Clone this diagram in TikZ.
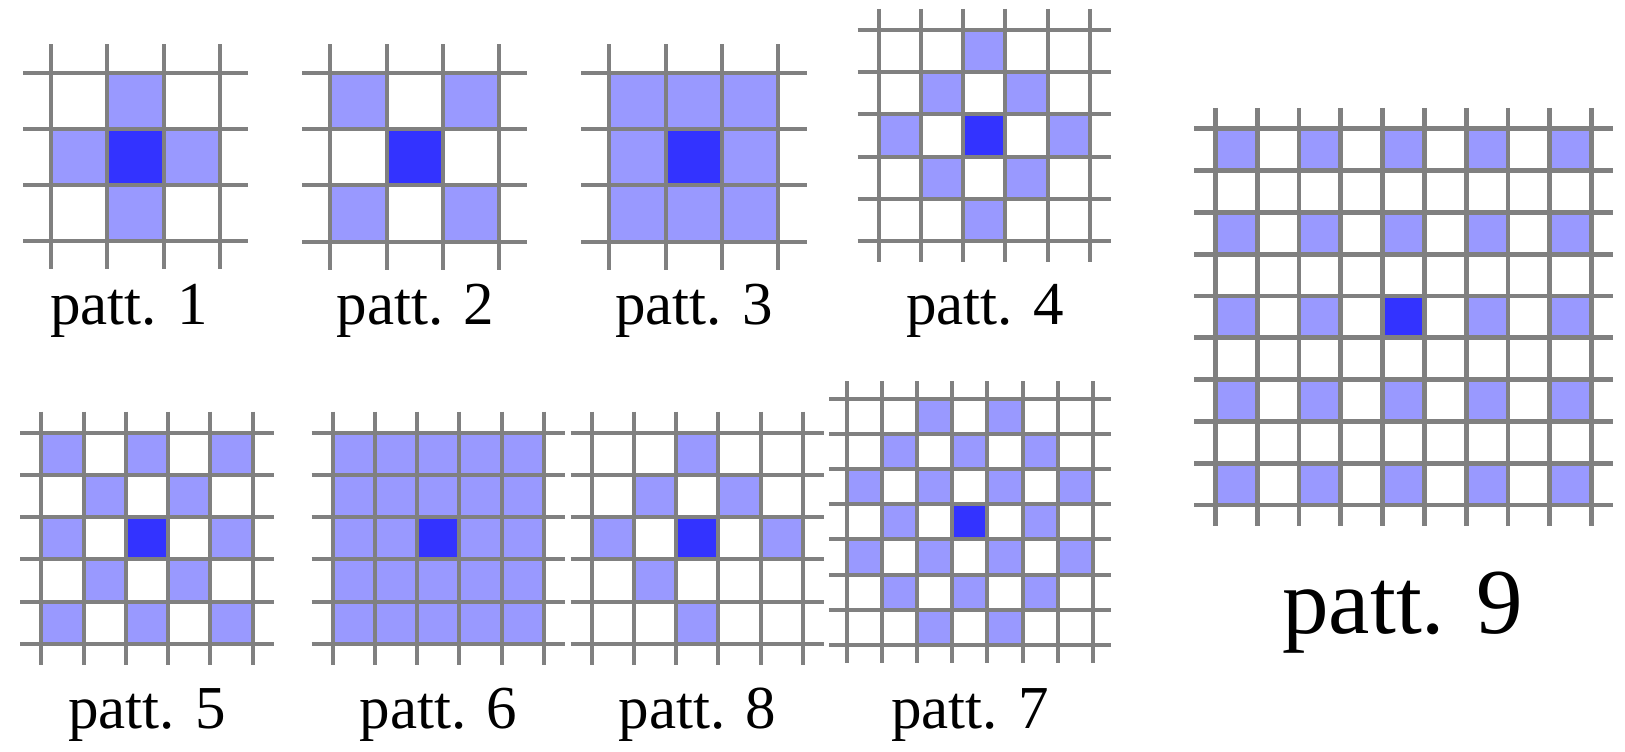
\documentclass[tikz,border=0pt]{standalone}
\usepackage{fontspec}
\setmainfont{Liberation Serif}
\definecolor{lightcell}{HTML}{9999FF}
\definecolor{darkcell}{HTML}{3333FF}
\definecolor{gridgray}{HTML}{808080}
\tikzset{
  gridline/.style={draw=gridgray, line width=4pt},
  lightfill/.style={fill=lightcell},
  darkfill/.style={fill=darkcell},
  lbl/.style={font=\fontsize{61}{72}\selectfont, anchor=base, inner sep=0pt},
  biglbl/.style={font=\fontsize{93}{110}\selectfont, anchor=base, inner sep=0pt},
}
% [#1 line width] #2 x0, #3 y0, #4 cell, #5 n, #6 light cells, #7 dark cell
\newcommand\drawpatt[7][4pt]{%
  \begin{scope}[shift={(#2,#3)}]
    \foreach \i/\j in {#6} {\fill[lightfill] (\i*#4,\j*#4) rectangle ++(#4,#4);}
    \foreach \i/\j in {#7} {\fill[darkfill] (\i*#4,\j*#4) rectangle ++(#4,#4);}
    \foreach \k in {0,...,#5} {
      \draw[gridline, line width=#1] (\k*#4,-0.5*#4) -- (\k*#4,#5*#4+0.5*#4);
      \draw[gridline, line width=#1] (-0.5*#4,\k*#4) -- (#5*#4+0.5*#4,\k*#4);
    }
  \end{scope}%
}
\begin{document}
\begin{tikzpicture}[x=1pt,y=-1pt]
\useasboundingbox (0,0) rectangle (1625,752);
% patt. 1
\drawpatt{51.2}{72.6}{56.2}{3}{1/0,0/1,2/1,1/2}{1/1}
\node[lbl] (l1) at (129,324.5) {patt. 1};
% patt. 2
\drawpatt{330.2}{72.6}{56.3}{3}{0/0,2/0,0/2,2/2}{1/1}
\node[lbl] (l2) at (415.3,324.5) {patt. 2};
% patt. 3
\drawpatt{609.2}{72.6}{56.4}{3}{0/0,1/0,2/0,0/1,2/1,0/2,1/2,2/2}{1/1}
\node[lbl] (l3) at (694,324.5) {patt. 3};
% patt. 4
\drawpatt{878.8}{30}{42.2}{5}{2/0,1/1,3/1,0/2,4/2,1/3,3/3,2/4}{2/2}
\node[lbl] (l4) at (985,324.5) {patt. 4};
% patt. 5
\drawpatt{41.3}{432.7}{42.25}{5}{0/0,2/0,4/0,1/1,3/1,0/2,4/2,1/3,3/3,0/4,2/4,4/4}{2/2}
\node[lbl] (l5) at (147,728) {patt. 5};
% patt. 6
\drawpatt{332.7}{432.7}{42.25}{5}{0/0,1/0,2/0,3/0,4/0,0/1,1/1,2/1,3/1,4/1,0/2,1/2,3/2,4/2,0/3,1/3,2/3,3/3,4/3,0/4,1/4,2/4,3/4,4/4}{2/2}
\node[lbl] (l6) at (438.5,728) {patt. 6};
% patt. 8
\drawpatt{591.7}{432.7}{42.2}{5}{2/0,1/1,3/1,0/2,4/2,1/3,2/4}{2/2}
\node[lbl] (l8) at (697.5,728) {patt. 8};
% patt. 7
\drawpatt{846.6}{398.6}{35.2}{7}{2/0,4/0,1/1,3/1,5/1,0/2,2/2,4/2,6/2,1/3,5/3,0/4,2/4,4/4,6/4,1/5,3/5,5/5,2/6,4/6}{3/3}
\node[lbl] (l7) at (969.8,728) {patt. 7};
% patt. 9
\drawpatt[4.8pt]{1215.3}{128.7}{41.82}{9}{0/0,2/0,4/0,6/0,8/0,0/2,2/2,4/2,6/2,8/2,0/4,2/4,6/4,8/4,0/6,2/6,4/6,6/6,8/6,0/8,2/8,4/8,6/8,8/8}{4/4}
\node[biglbl] (l9) at (1402.5,633.3) {patt. 9};
\end{tikzpicture}
\end{document}
